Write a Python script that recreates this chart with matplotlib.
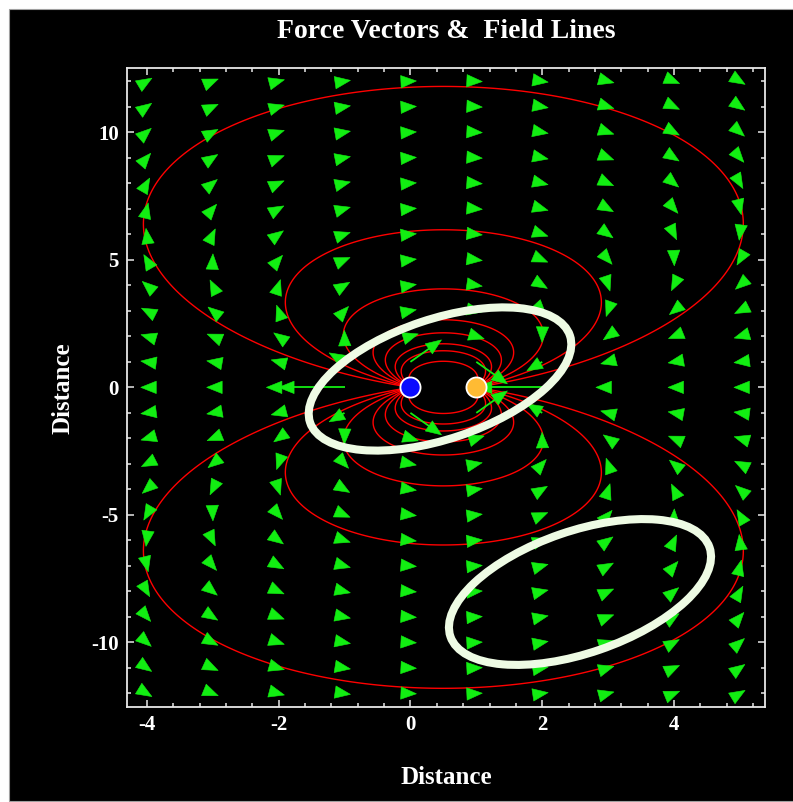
import numpy as np
import matplotlib
matplotlib.use("Agg")
import matplotlib.pyplot as plt
from matplotlib.collections import PolyCollection, LineCollection
from matplotlib.patches import Ellipse, Rectangle
from matplotlib.transforms import IdentityTransform
from matplotlib.ticker import MultipleLocator

plt.rcParams["font.family"] = ["Liberation Serif", "DejaVu Serif"]
plt.rcParams["font.weight"] = "bold"
plt.rcParams["axes.unicode_minus"] = False

# ---- data -------------------------------------------------------------
# two point charges (dipole)
charge_x = [0.0, 1.0]
charge_y = [0.0, 0.0]
charge_q = [1.0, -1.0]
charge_colors = ["#0a0aff", "#ffbb33"]

# sample points of the force-vector grid
grid_x = [-4, -3, -2, -1, 0, 1, 2, 3, 4, 5]
grid_y = [-12, -11, -10, -9, -8, -7, -6, -5, -4, -3, -2, -1, 0,
          1, 2, 3, 4, 5, 6, 7, 8, 9, 10, 11, 12]

# launch angles (degrees from +x) of the field lines at the positive charge
launch_deg = [156.25, 147, 138, 129, 123, 116, 110, 97]

title = "Force Vectors &  Field Lines"
xlabel = "Distance"
ylabel = "Distance"

# ---- figure -----------------------------------------------------------
W, H, DPI = 793, 802, 100
fig = plt.figure(figsize=(W / DPI, H / DPI), dpi=DPI, facecolor="white")
fig.add_artist(Rectangle((9 / W, 1 / H), 1.0, (H - 10) / H, transform=fig.transFigure,
                         facecolor="black", edgecolor="#a0a0a0", lw=0.8, zorder=-10))

left, right, top, bottom = 127, 765, 68, 707
ax = fig.add_axes([left / W, 1 - bottom / H, (right - left) / W, (bottom - top) / H])
ax.set_facecolor("black")
xmin, xmax, ymin, ymax = -4.30, 5.38, -12.53, 12.52
ax.set_xlim(xmin, xmax)
ax.set_ylim(ymin, ymax)

for s in ax.spines.values():
    s.set_color("#e8e8e8")
    s.set_linewidth(1.3)

ax.xaxis.set_major_locator(MultipleLocator(2))
ax.xaxis.set_minor_locator(MultipleLocator(0.4))
ax.yaxis.set_major_locator(MultipleLocator(5))
ax.yaxis.set_minor_locator(MultipleLocator(1))
ax.tick_params(which="both", direction="in", top=True, right=True, color="#e8e8e8",
               labelcolor="white", labelsize=15, width=1.1)
ax.tick_params(which="major", length=5, pad=6)
ax.tick_params(which="minor", length=3)

qx = np.array(charge_x)
qy = np.array(charge_y)
qq = np.array(charge_q)

# ---- field lines as level sets of the flux function ---------------------
X, Y = np.meshgrid(np.linspace(xmin, xmax, 1600), np.linspace(ymin, ymax, 2200))
with np.errstate(divide="ignore", invalid="ignore"):
    psi = np.zeros_like(X)
    for cx, cy, q in zip(qx, qy, qq):
        psi += q * (X - cx) / np.hypot(X - cx, Y - cy)

src = 0  # positive charge
other = sum(qq[j] * np.sign(qx[src] - qx[j]) for j in range(len(qq)) if j != src)
levels = sorted(qq[src] * np.cos(np.radians(a)) + other for a in launch_deg)
ax.contour(X, Y, psi, levels=levels, colors="#ff0000", linewidths=1.0, zorder=2)

# ---- force vectors ----------------------------------------------------
gx, gy = np.meshgrid(np.array(grid_x, float), np.array(grid_y, float))
gx, gy = gx.ravel(), gy.ravel()
Ex = np.zeros_like(gx)
Ey = np.zeros_like(gy)
with np.errstate(divide="ignore", invalid="ignore"):
    for cx, cy, q in zip(qx, qy, qq):
        dx, dy = gx - cx, gy - cy
        r3 = np.hypot(dx, dy) ** 3
        Ex += q * dx / r3
        Ey += q * dy / r3
ok = np.isfinite(Ex) & np.isfinite(Ey)
gx, gy, Ex, Ey = gx[ok], gy[ok], Ex[ok], Ey[ok]
mag = np.hypot(Ex, Ey)
vx = Ex / mag.max() * 1.0   # longest vector spans one grid step
vy = Ey / mag.max() * 1.0

sx = (right - left) / (xmax - xmin)
sy = (bottom - top) / (ymax - ymin)
px, py = vx * sx, vy * sy
L = np.hypot(px, py)
ux, uy = px / L, py / L
tl = np.maximum(L, 6.0)
tipx, tipy = ux * tl, uy * tl
hl, hw = 15.5, 6.2

heads, shafts = [], []
for i in range(len(gx)):
    t = np.array([tipx[i], tipy[i]])
    u = np.array([ux[i], uy[i]])
    n = np.array([-u[1], u[0]])
    heads.append([t, t - u * hl + n * hw, t - u * hl - n * hw])
    if L[i] > hl:
        shafts.append([(0.0, 0.0), tuple(t - u * (hl - 3))])
    else:
        shafts.append([(0.0, 0.0), (0.0, 0.0)])

green = "#12ee12"
offs = np.column_stack([gx, gy])
lc = LineCollection(shafts, offsets=offs, offset_transform=ax.transData,
                    transform=IdentityTransform(), colors=green, linewidths=1.3, zorder=3)
pc = PolyCollection(heads, offsets=offs, offset_transform=ax.transData,
                    transform=IdentityTransform(), facecolors=green, edgecolors=green,
                    linewidths=0.4, zorder=3)
ax.add_collection(lc, autolim=False)
ax.add_collection(pc, autolim=False)

# ---- charges ------------------------------------------------------------
for cx, cy, c in zip(qx, qy, charge_colors):
    ax.plot(cx, cy, "o", ms=14.5, color=c, mec="white", mew=1.3, zorder=5)

# ---- labels -------------------------------------------------------------
fig.text(446 / W, 1 - 31 / H, title, color="white", fontsize=20, ha="center", va="center")
fig.text(446 / W, 1 - 778 / H, xlabel, color="white", fontsize=18, ha="center", va="center")
fig.text(63 / W, 1 - 388 / H, ylabel, color="white", fontsize=18, ha="center", va="center",
         rotation=90)

# ---- highlight rings ----------------------------------------------------
ring = "#eefbe4"
for (cxp, cyp, a, b, ang) in [(440, 379, 137, 60, 18.5), (580, 592, 137, 61, 19)]:
    fig.add_artist(Ellipse((cxp / DPI, (H - cyp) / DPI), 2 * a / DPI, 2 * b / DPI, angle=ang,
                           transform=fig.dpi_scale_trans, fill=False, edgecolor=ring,
                           lw=5.8, zorder=10))

fig.savefig("out.png", dpi=DPI, facecolor=fig.get_facecolor())
